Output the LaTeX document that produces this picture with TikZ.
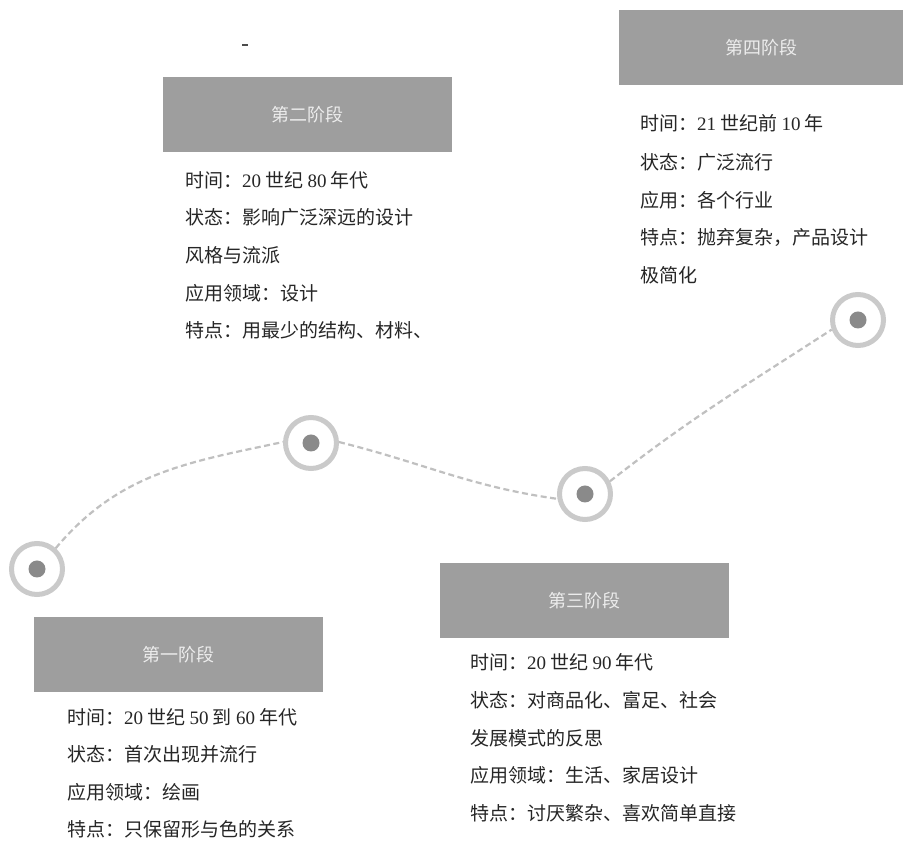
\documentclass[tikz,border=0pt]{standalone}
\usepackage{fontspec}
\setmainfont{Liberation Serif}
\newfontfamily\cjkf{Noto Sans CJK SC}
\newfontfamily\latinf{Liberation Serif}
\newcommand\dg[1]{{\latinf #1}}
\definecolor{boxgray}{RGB}{158,158,158}
\definecolor{titlegray}{RGB}{236,236,236}
\definecolor{ringgray}{RGB}{202,202,202}
\definecolor{dotgray}{RGB}{138,138,138}
\definecolor{linegray}{RGB}{192,192,192}
\definecolor{textgray}{RGB}{38,38,38}
\tikzset{
  ring/.style={circle, draw=ringgray, line width=5pt, minimum size=51pt, inner sep=0pt},
  dot/.style={circle, fill=dotgray, minimum size=17pt, inner sep=0pt},
  banner/.style={rectangle, fill=boxgray, minimum width=289pt, minimum height=75pt, inner sep=0pt,
    text=titlegray, font=\cjkf\fontsize{18}{18}\selectfont},
  info/.style={anchor=west, inner sep=0pt, text=textgray, font=\cjkf\fontsize{19}{19}\selectfont},
  link/.style={draw=linegray, line width=2.2pt, dash pattern=on 6pt off 3.5pt}
}
\begin{document}
\begin{tikzpicture}[x=1pt,y=1pt]
\useasboundingbox (0,0) rectangle (904,840);
\fill[white] (0,0) rectangle (904,840);

% small mark
\draw[black!70, line width=1.5pt] (242,795) -- (248,795);

% rings and dots
\node[ring] (c1) at (37,271) {};
\node[ring] (c2) at (311,397) {};
\node[ring] (c3) at (585,346) {};
\node[ring] (c4) at (858,520) {};
\node[dot] (d1) at (c1) {};
\node[dot] (d2) at (c2) {};
\node[dot] (d3) at (c3) {};
\node[dot] (d4) at (c4) {};

% connectors
\draw[link] (c1.48) to[out=50, in=192] (c2.178);
\draw[link] (c2.2) to[out=-14, in=172] (c3.190);
\draw[link] (c3.27) to[out=38, in=213] (c4.200);

% banners
\node[banner] (b1) at (178,185.5) {第一阶段};
\node[banner] (b2) at (307.5,725) {第二阶段};
\node[banner] (b3) at (584.5,239.5) {第三阶段};
\node[banner, minimum width=284pt] (b4) at (761,792.5) {第四阶段};

% stage 1
\node[info] (t1a) at (67,123) {时间：\dg{20} 世纪 \dg{50} 到 \dg{60} 年代};
\node[info] (t1b) at (67,86) {状态：首次出现并流行};
\node[info] (t1c) at (67,48) {应用领域：绘画};
\node[info] (t1d) at (67,11) {特点：只保留形与色的关系};

% stage 2
\node[info] (t2a) at (185,660) {时间：\dg{20} 世纪 \dg{80} 年代};
\node[info] (t2b) at (185,623) {状态：影响广泛深远的设计};
\node[info] (t2c) at (185,585) {风格与流派};
\node[info] (t2d) at (185,547) {应用领域：设计};
\node[info] (t2e) at (185,510) {特点：用最少的结构、材料、};

% stage 3
\node[info] (t3a) at (470,178) {时间：\dg{20} 世纪 \dg{90} 年代};
\node[info] (t3b) at (470,140) {状态：对商品化、富足、社会};
\node[info] (t3c) at (470,102) {发展模式的反思};
\node[info] (t3d) at (470,65) {应用领域：生活、家居设计};
\node[info] (t3e) at (470,27) {特点：讨厌繁杂、喜欢简单直接};

% stage 4
\node[info] (t4a) at (640,717) {时间：\dg{21} 世纪前 \dg{10} 年};
\node[info] (t4b) at (640,678) {状态：广泛流行};
\node[info] (t4c) at (640,640) {应用：各个行业};
\node[info] (t4d) at (640,603) {特点：抛弃复杂，产品设计};
\node[info] (t4e) at (640,565) {极简化};
\end{tikzpicture}
\end{document}
